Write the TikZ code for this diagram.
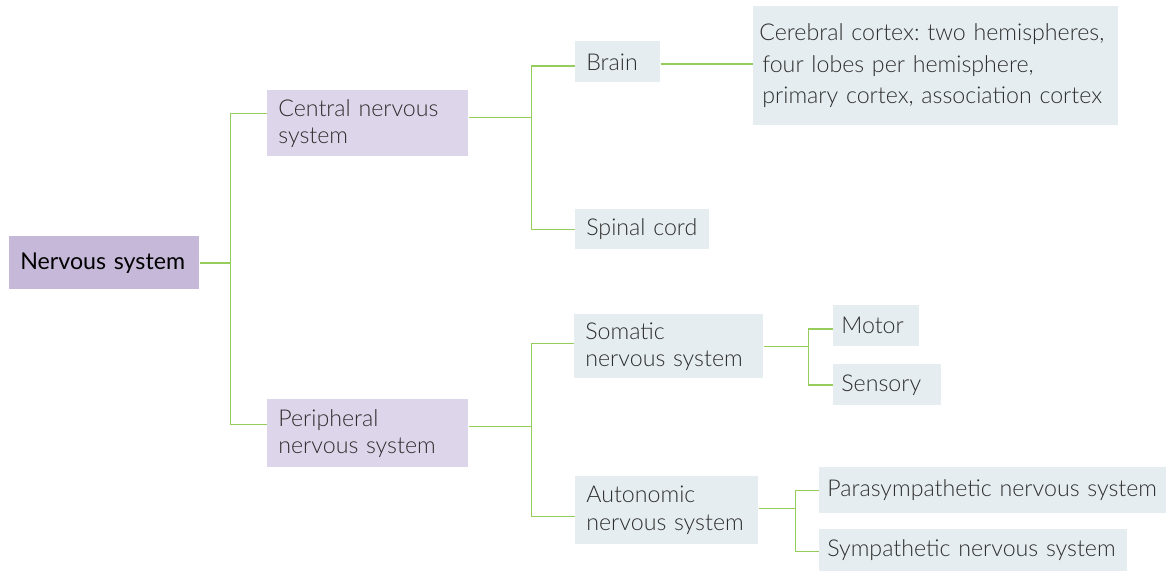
\documentclass[tikz,border=0pt]{standalone}
\usepackage{fontspec}
\setmainfont{Lato}[UprightFont=* Light, BoldFont=*]
\usetikzlibrary{positioning, calc}

\definecolor{linkgreen}{HTML}{96CC5C}
\definecolor{rootfill}{HTML}{C6B8D9}
\definecolor{mainfill}{HTML}{DDD5EA}
\definecolor{leaffill}{HTML}{E6EDF1}
\definecolor{textgrey}{HTML}{2E2E2E}

\frenchspacing

\begin{document}
\begin{tikzpicture}[
  x=0.02cm, y=-0.02cm,
  box/.style={anchor=north west, inner xsep=0.22cm, inner ysep=0pt, align=left, text=textgrey,
    font=\fontsize{13.2}{15.5}\selectfont},
  root/.style={box, fill=rootfill, font=\fontsize{13.2}{15.5}\selectfont\bfseries, text=black},
  main/.style={box, fill=mainfill},
  leaf/.style={box, fill=leaffill},
  tight/.style={inner xsep=0.16cm},
  link/.style={draw=linkgreen, line width=0.9pt},
]
\useasboundingbox (0,0) rectangle (1166,572);

% Boxes
\node[root, text width=3.36cm, minimum height=1.06cm] (ns)      at (9,236)   {Nervous system};
\node[main, text width=3.58cm, minimum height=1.32cm] (cns)     at (267,90)  {Central nervous\\system};
\node[main, text width=3.58cm, minimum height=1.36cm] (pns)     at (267,399) {Peripheral\\nervous system};
\node[leaf, text width=1.26cm, minimum height=0.82cm] (brain)   at (575,41)  {Brain};
\node[leaf, text width=7.06cm, minimum height=2.38cm, inner xsep=0.12cm,
  font=\fontsize{13.2}{18}\selectfont] (cortex) at (753,6)
  {Cerebral cortex: two hemispheres,\\\hspace*{0.06cm}four lobes per hemisphere,\\\hspace*{0.06cm}primary cortex, association cortex};
\node[leaf, text width=2.24cm, minimum height=0.8cm]  (spinal)  at (575,209) {Spinal cord};
\node[leaf, text width=3.34cm, minimum height=1.28cm] (soma)    at (574,314) {Somatic\\nervous system};
\node[leaf, tight, text width=1.4cm,  minimum height=0.82cm] (motor)   at (833,305) {Motor};
\node[leaf, tight, text width=1.84cm, minimum height=0.82cm] (sensory) at (833,364) {Sensory};
\node[leaf, text width=3.22cm, minimum height=1.36cm] (auto)    at (575,476) {Autonomic\\nervous system};
\node[leaf, tight, text width=6.62cm, minimum height=0.92cm] (para)    at (819,467) {Parasympathetic nervous system};
\node[leaf, tight, text width=5.84cm, minimum height=0.84cm] (symp)    at (819,529) {Sympathetic nervous system};

% Connectors
\draw[link] (ns.east) -- ++(31,0) coordinate (t0);
\draw[link] ($(cns.west)+(0,-10)$) -| (t0) |- ($(pns.west)+(0,-9)$);

\draw[link] ($(cns.east)+(0,-6)$) -- ++(63,0) coordinate (t1);
\draw[link] ($(brain.west)+(0,4)$) -| (t1) |- (spinal.west);
\draw[link] ($(brain.east)+(0,2)$) -- ($(brain.east -| cortex.west)+(0,2)$);

\draw[link] ($(pns.east)+(0,-7)$) -- ++(63,0) coordinate (t2);
\draw[link] ($(soma.west)+(0,-3)$) -| (t2) |- ($(auto.west)+(0,6)$);

\draw[link] (soma.east) -- ++(45,0) coordinate (t3);
\draw[link] ($(motor.west)+(0,3)$) -| (t3) |- (sensory.west);

\draw[link] ($(auto.east)+(0,-2)$) -- ++(37,0) coordinate (t4);
\draw[link] (para.west) -| (t4) |- ($(symp.west)+(0,1)$);

\end{tikzpicture}
\end{document}
